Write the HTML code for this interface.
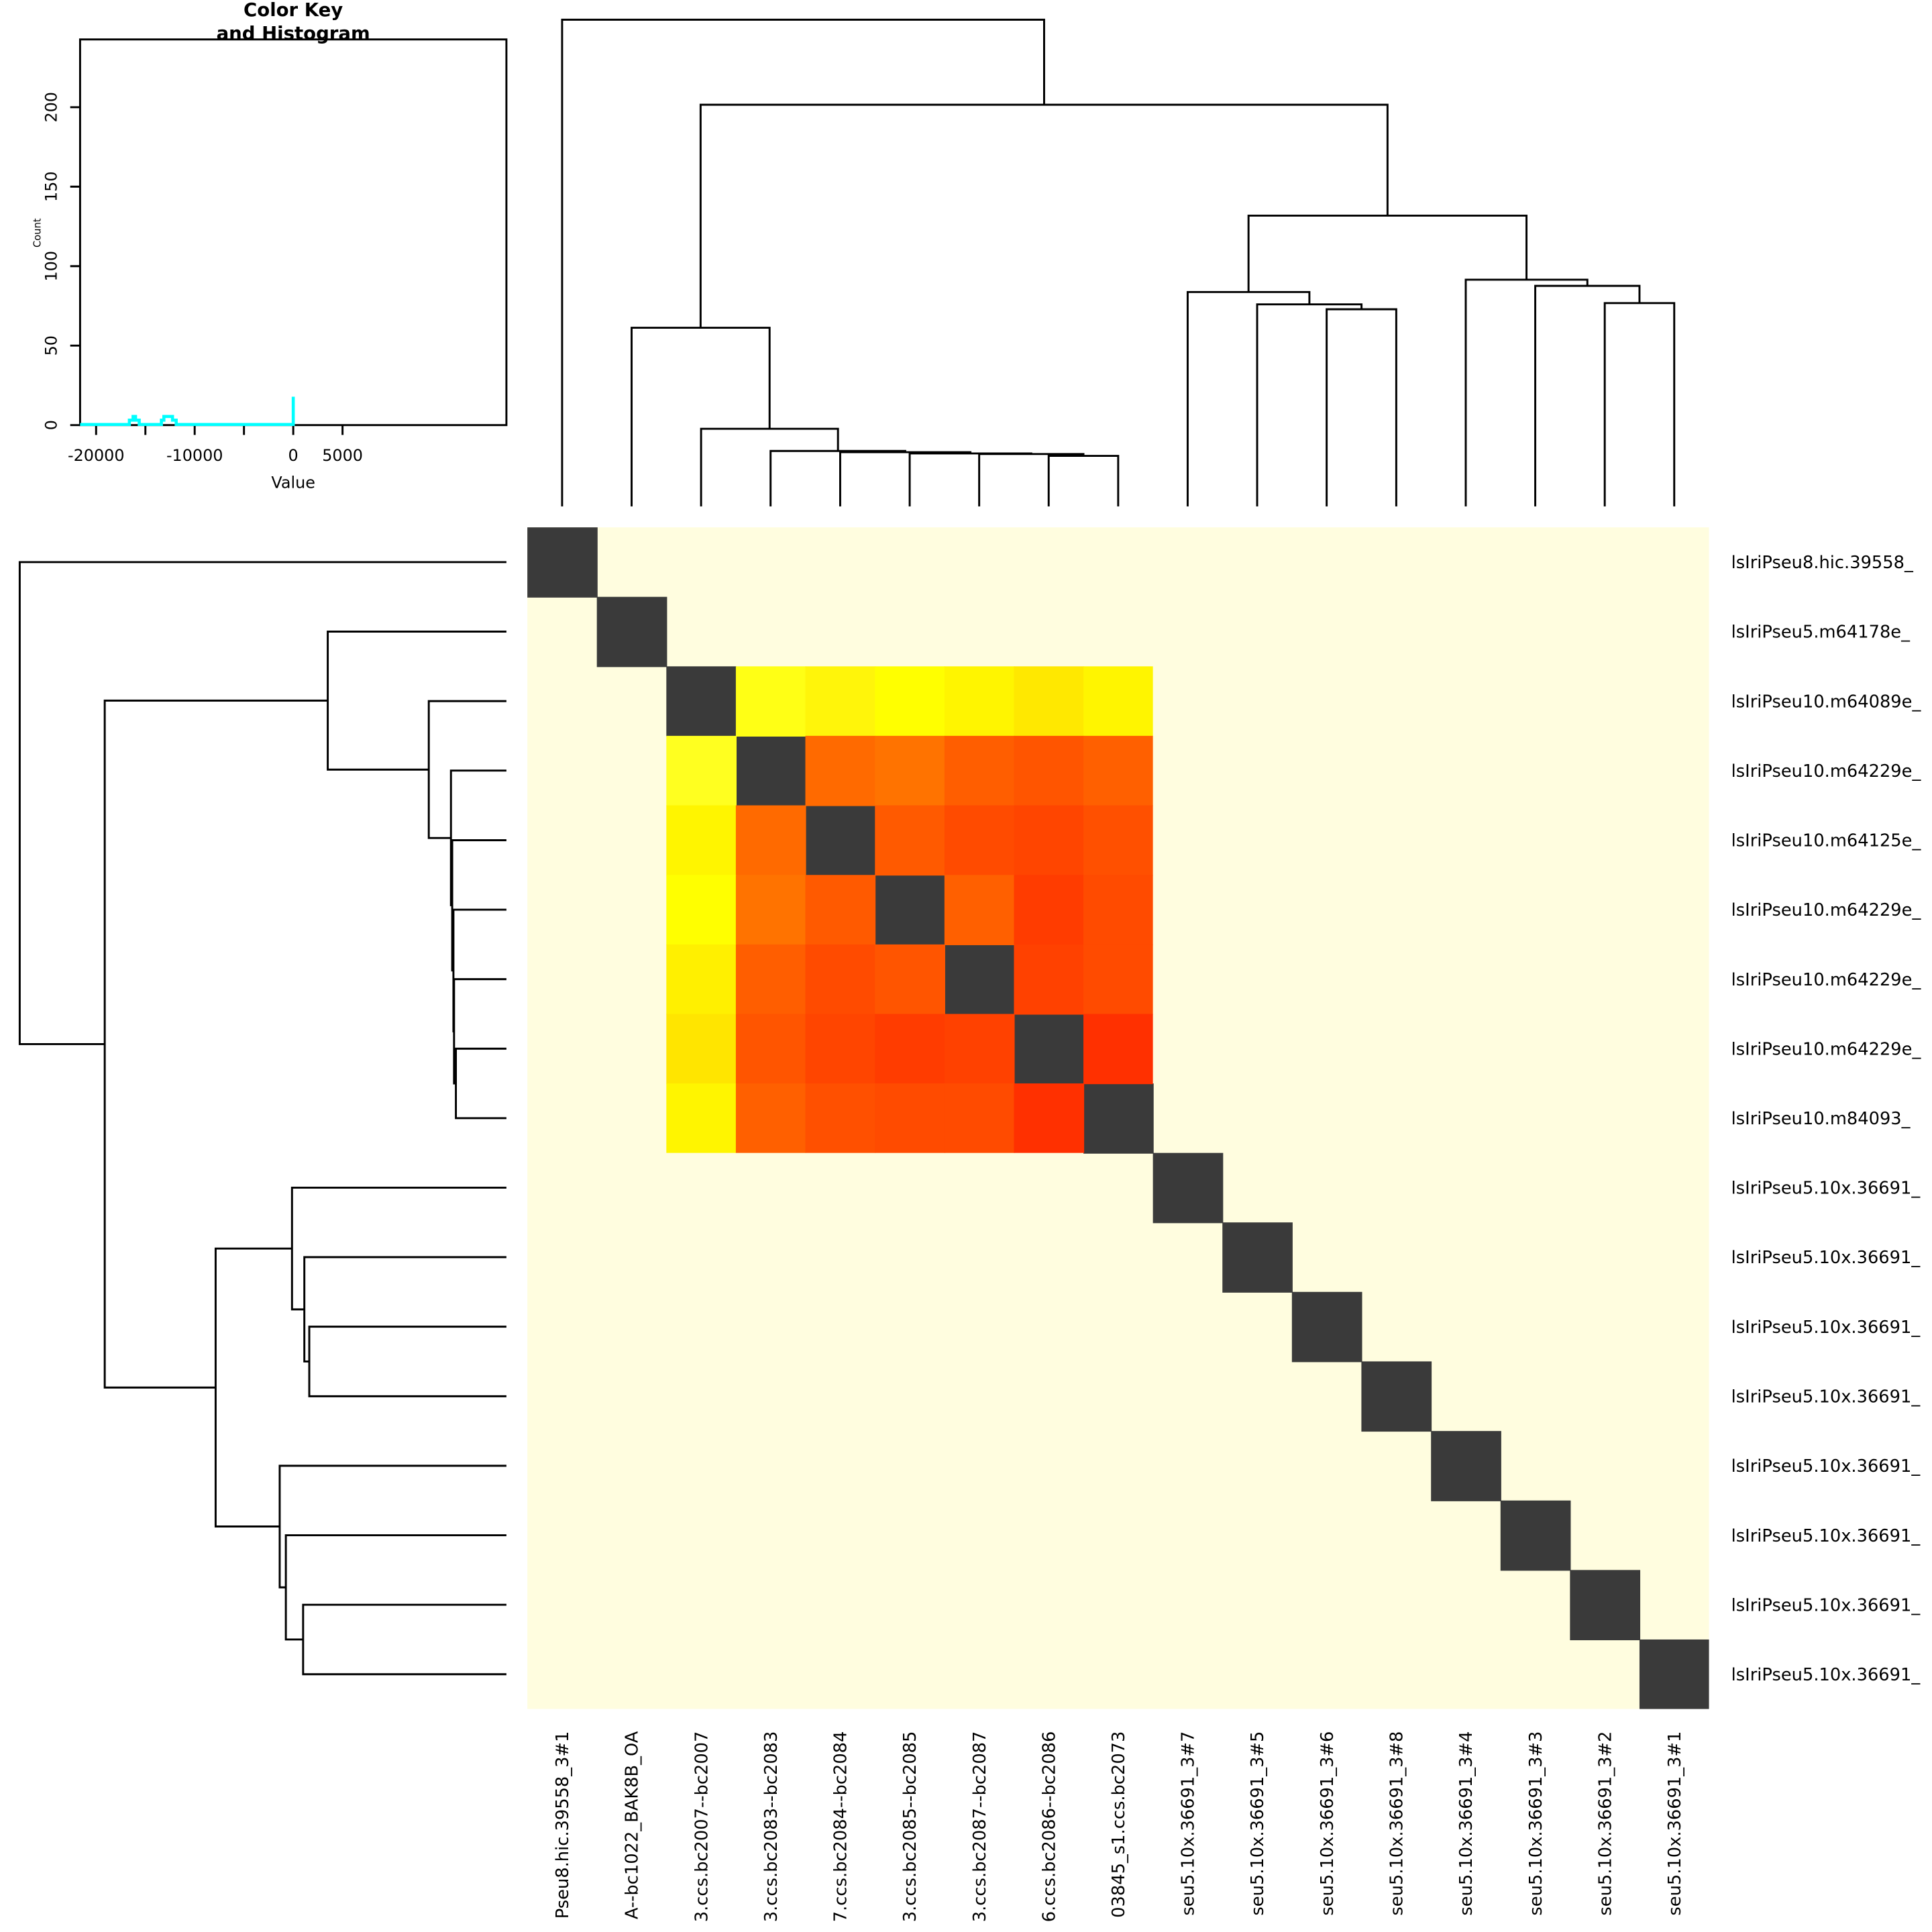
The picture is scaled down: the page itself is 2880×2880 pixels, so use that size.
<!DOCTYPE html>
<html><head><meta charset="utf-8"><style>html,body{margin:0;padding:0;background:#fff;overflow:hidden}svg{display:block}</style></head>
<body>
<svg xmlns="http://www.w3.org/2000/svg" width="2880" height="2880" viewBox="0 0 1568 1568" font-family="'DejaVu Sans','Liberation Sans',sans-serif">
<rect width="1568" height="1568" fill="#fff"/>
<rect x="428" y="428" width="959" height="959" fill="#FFFDDF"/>
<g fill="#3A3A3A">
<rect x="428" y="428" width="57" height="57"/>
<rect x="484.4" y="484.4" width="57" height="57"/>
<rect x="540.8" y="540.8" width="57" height="57"/>
<rect x="597.2" y="597.2" width="57" height="57"/>
<rect x="653.6" y="653.6" width="57" height="57"/>
<rect x="710.1" y="710.1" width="57" height="57"/>
<rect x="766.5" y="766.5" width="57" height="57"/>
<rect x="822.9" y="822.9" width="57" height="57"/>
<rect x="879.3" y="879.3" width="57" height="57"/>
<rect x="935.7" y="935.7" width="57" height="57"/>
<rect x="992.1" y="992.1" width="57" height="57"/>
<rect x="1048.5" y="1048.5" width="57" height="57"/>
<rect x="1104.9" y="1104.9" width="57" height="57"/>
<rect x="1161.4" y="1161.4" width="57" height="57"/>
<rect x="1217.8" y="1217.8" width="57" height="57"/>
<rect x="1274.2" y="1274.2" width="57" height="57"/>
<rect x="1330.6" y="1330.6" width="56.4" height="56.4"/>
</g>
<g>
<rect x="597.2" y="540.8" width="57" height="57" fill="#FFFF15"/>
<rect x="653.6" y="540.8" width="57" height="57" fill="#FFF50A"/>
<rect x="710.1" y="540.8" width="57" height="57" fill="#FFFF00"/>
<rect x="766.5" y="540.8" width="57" height="57" fill="#FFF500"/>
<rect x="822.9" y="540.8" width="57" height="57" fill="#FFE800"/>
<rect x="879.3" y="540.8" width="56.4" height="57" fill="#FFF500"/>
<rect x="540.8" y="597.2" width="57" height="57" fill="#FFFF20"/>
<rect x="653.6" y="597.2" width="57" height="57" fill="#FF6A00"/>
<rect x="710.1" y="597.2" width="57" height="57" fill="#FF7300"/>
<rect x="766.5" y="597.2" width="57" height="57" fill="#FF5E00"/>
<rect x="822.9" y="597.2" width="57" height="57" fill="#FF5500"/>
<rect x="879.3" y="597.2" width="56.4" height="57" fill="#FF6000"/>
<rect x="540.8" y="653.6" width="57" height="57" fill="#FFF500"/>
<rect x="597.2" y="653.6" width="57" height="57" fill="#FF6A00"/>
<rect x="710.1" y="653.6" width="57" height="57" fill="#FF5A00"/>
<rect x="766.5" y="653.6" width="57" height="57" fill="#FF4B00"/>
<rect x="822.9" y="653.6" width="57" height="57" fill="#FF4500"/>
<rect x="879.3" y="653.6" width="56.4" height="57" fill="#FF5000"/>
<rect x="540.8" y="710.1" width="57" height="57" fill="#FFFF00"/>
<rect x="597.2" y="710.1" width="57" height="57" fill="#FF7300"/>
<rect x="653.6" y="710.1" width="57" height="57" fill="#FF5A00"/>
<rect x="766.5" y="710.1" width="57" height="57" fill="#FF6000"/>
<rect x="822.9" y="710.1" width="57" height="57" fill="#FF3C00"/>
<rect x="879.3" y="710.1" width="56.4" height="57" fill="#FF4B00"/>
<rect x="540.8" y="766.5" width="57" height="57" fill="#FFF000"/>
<rect x="597.2" y="766.5" width="57" height="57" fill="#FF5E00"/>
<rect x="653.6" y="766.5" width="57" height="57" fill="#FF4B00"/>
<rect x="710.1" y="766.5" width="57" height="57" fill="#FF5500"/>
<rect x="822.9" y="766.5" width="57" height="57" fill="#FF4100"/>
<rect x="879.3" y="766.5" width="56.4" height="57" fill="#FF4B00"/>
<rect x="540.8" y="822.9" width="57" height="57" fill="#FFE500"/>
<rect x="597.2" y="822.9" width="57" height="57" fill="#FF5500"/>
<rect x="653.6" y="822.9" width="57" height="57" fill="#FF4500"/>
<rect x="710.1" y="822.9" width="57" height="57" fill="#FF3C00"/>
<rect x="766.5" y="822.9" width="57" height="57" fill="#FF4100"/>
<rect x="879.3" y="822.9" width="56.4" height="57" fill="#FF3000"/>
<rect x="540.8" y="879.3" width="57" height="56.4" fill="#FFF500"/>
<rect x="597.2" y="879.3" width="57" height="56.4" fill="#FF6000"/>
<rect x="653.6" y="879.3" width="57" height="56.4" fill="#FF5000"/>
<rect x="710.1" y="879.3" width="57" height="56.4" fill="#FF4B00"/>
<rect x="766.5" y="879.3" width="57" height="56.4" fill="#FF4B00"/>
<rect x="822.9" y="879.3" width="57" height="56.4" fill="#FF3000"/>
</g>
<g fill="none" stroke="#000" stroke-width="1.6">
<path d="M851.1,411V370H907.5V411 M794.7,411V368.5H879.3V370 M738.3,411V368H837V368.5 M681.9,411V367H787.6V368 M625.4,411V366H734.7V367 M569,411V348H680.1V366 M512.6,411V266H624.6V348 M1076.7,411V251H1133.2V411 M1020.3,411V247H1105V251 M963.9,411V237H1062.7V247 M1302.4,411V246H1358.8V411 M1246,411V232H1330.6V246 M1189.6,411V227H1288.3V232 M1013.3,237V175H1238.9V227 M568.6,266V85H1126.1V175 M456.2,411V16H847.4V85"/>
<path transform="matrix(0 1 1 0 0 0)" d="M851.1,411V370H907.5V411 M794.7,411V368.5H879.3V370 M738.3,411V368H837V368.5 M681.9,411V367H787.6V368 M625.4,411V366H734.7V367 M569,411V348H680.1V366 M512.6,411V266H624.6V348 M1076.7,411V251H1133.2V411 M1020.3,411V247H1105V251 M963.9,411V237H1062.7V247 M1302.4,411V246H1358.8V411 M1246,411V232H1330.6V246 M1189.6,411V227H1288.3V232 M1013.3,237V175H1238.9V227 M568.6,266V85H1126.1V175 M456.2,411V16H847.4V85"/>
<rect x="65" y="32" width="346" height="313"/>
<path d="M57,345h8M57,280.5h8M57,216h8M57,151.5h8M57,87h8"/>
<path d="M78,345v8M118,345v8M158,345v8M198,345v8M238,345v8M278,345v8"/>
</g>
<path d="M65,344.5H105V341H108V338H110V341H113V344.5H131V341H133V338H140V341H143V344.5H238V322" fill="none" stroke="#00FFFF" stroke-width="2.5"/>
<g font-size="13" fill="#000" text-anchor="middle">
<text x="78" y="374">-20000</text><text x="158" y="374">-10000</text><text x="238" y="374">0</text><text x="278" y="374">5000</text>
<text x="238" y="396">Value</text>
<text transform="translate(46,345) rotate(-90)">0</text>
<text transform="translate(46,280.5) rotate(-90)">50</text>
<text transform="translate(46,216) rotate(-90)">100</text>
<text transform="translate(46,151.5) rotate(-90)">150</text>
<text transform="translate(46,87) rotate(-90)">200</text>
<text font-size="8" transform="translate(33,189) rotate(-90)">Count</text>
<text font-weight="bold" font-size="15" x="238" y="13">Color Key</text>
<text font-weight="bold" font-size="15" x="238" y="32">and Histogram</text>
</g>
<g font-size="14" fill="#000">
<text x="1405" y="461.2">lsIriPseu8.hic.39558_</text>
<text x="1405" y="517.6">lsIriPseu5.m64178e_</text>
<text x="1405" y="574">lsIriPseu10.m64089e_</text>
<text x="1405" y="630.4">lsIriPseu10.m64229e_</text>
<text x="1405" y="686.9">lsIriPseu10.m64125e_</text>
<text x="1405" y="743.3">lsIriPseu10.m64229e_</text>
<text x="1405" y="799.7">lsIriPseu10.m64229e_</text>
<text x="1405" y="856.1">lsIriPseu10.m64229e_</text>
<text x="1405" y="912.5">lsIriPseu10.m84093_</text>
<text x="1405" y="968.9">lsIriPseu5.10x.36691_</text>
<text x="1405" y="1025.3">lsIriPseu5.10x.36691_</text>
<text x="1405" y="1081.7">lsIriPseu5.10x.36691_</text>
<text x="1405" y="1138.2">lsIriPseu5.10x.36691_</text>
<text x="1405" y="1194.6">lsIriPseu5.10x.36691_</text>
<text x="1405" y="1251">lsIriPseu5.10x.36691_</text>
<text x="1405" y="1307.4">lsIriPseu5.10x.36691_</text>
<text x="1405" y="1363.8">lsIriPseu5.10x.36691_</text>
</g>
<g font-size="14" fill="#000" text-anchor="end">
<text transform="translate(461.2,1405) rotate(-90)">Pseu8.hic.39558_3#1</text>
<text transform="translate(517.6,1405) rotate(-90)">A--bc1022_BAK8B_OA</text>
<text transform="translate(574,1405) rotate(-90)">3.ccs.bc2007--bc2007</text>
<text transform="translate(630.4,1405) rotate(-90)">3.ccs.bc2083--bc2083</text>
<text transform="translate(686.9,1405) rotate(-90)">7.ccs.bc2084--bc2084</text>
<text transform="translate(743.3,1405) rotate(-90)">3.ccs.bc2085--bc2085</text>
<text transform="translate(799.7,1405) rotate(-90)">3.ccs.bc2087--bc2087</text>
<text transform="translate(856.1,1405) rotate(-90)">6.ccs.bc2086--bc2086</text>
<text transform="translate(912.5,1405) rotate(-90)">03845_s1.ccs.bc2073</text>
<text transform="translate(968.9,1405) rotate(-90)">seu5.10x.36691_3#7</text>
<text transform="translate(1025.3,1405) rotate(-90)">seu5.10x.36691_3#5</text>
<text transform="translate(1081.7,1405) rotate(-90)">seu5.10x.36691_3#6</text>
<text transform="translate(1138.2,1405) rotate(-90)">seu5.10x.36691_3#8</text>
<text transform="translate(1194.6,1405) rotate(-90)">seu5.10x.36691_3#4</text>
<text transform="translate(1251,1405) rotate(-90)">seu5.10x.36691_3#3</text>
<text transform="translate(1307.4,1405) rotate(-90)">seu5.10x.36691_3#2</text>
<text transform="translate(1363.8,1405) rotate(-90)">seu5.10x.36691_3#1</text>
</g>
</svg>
</body></html>
